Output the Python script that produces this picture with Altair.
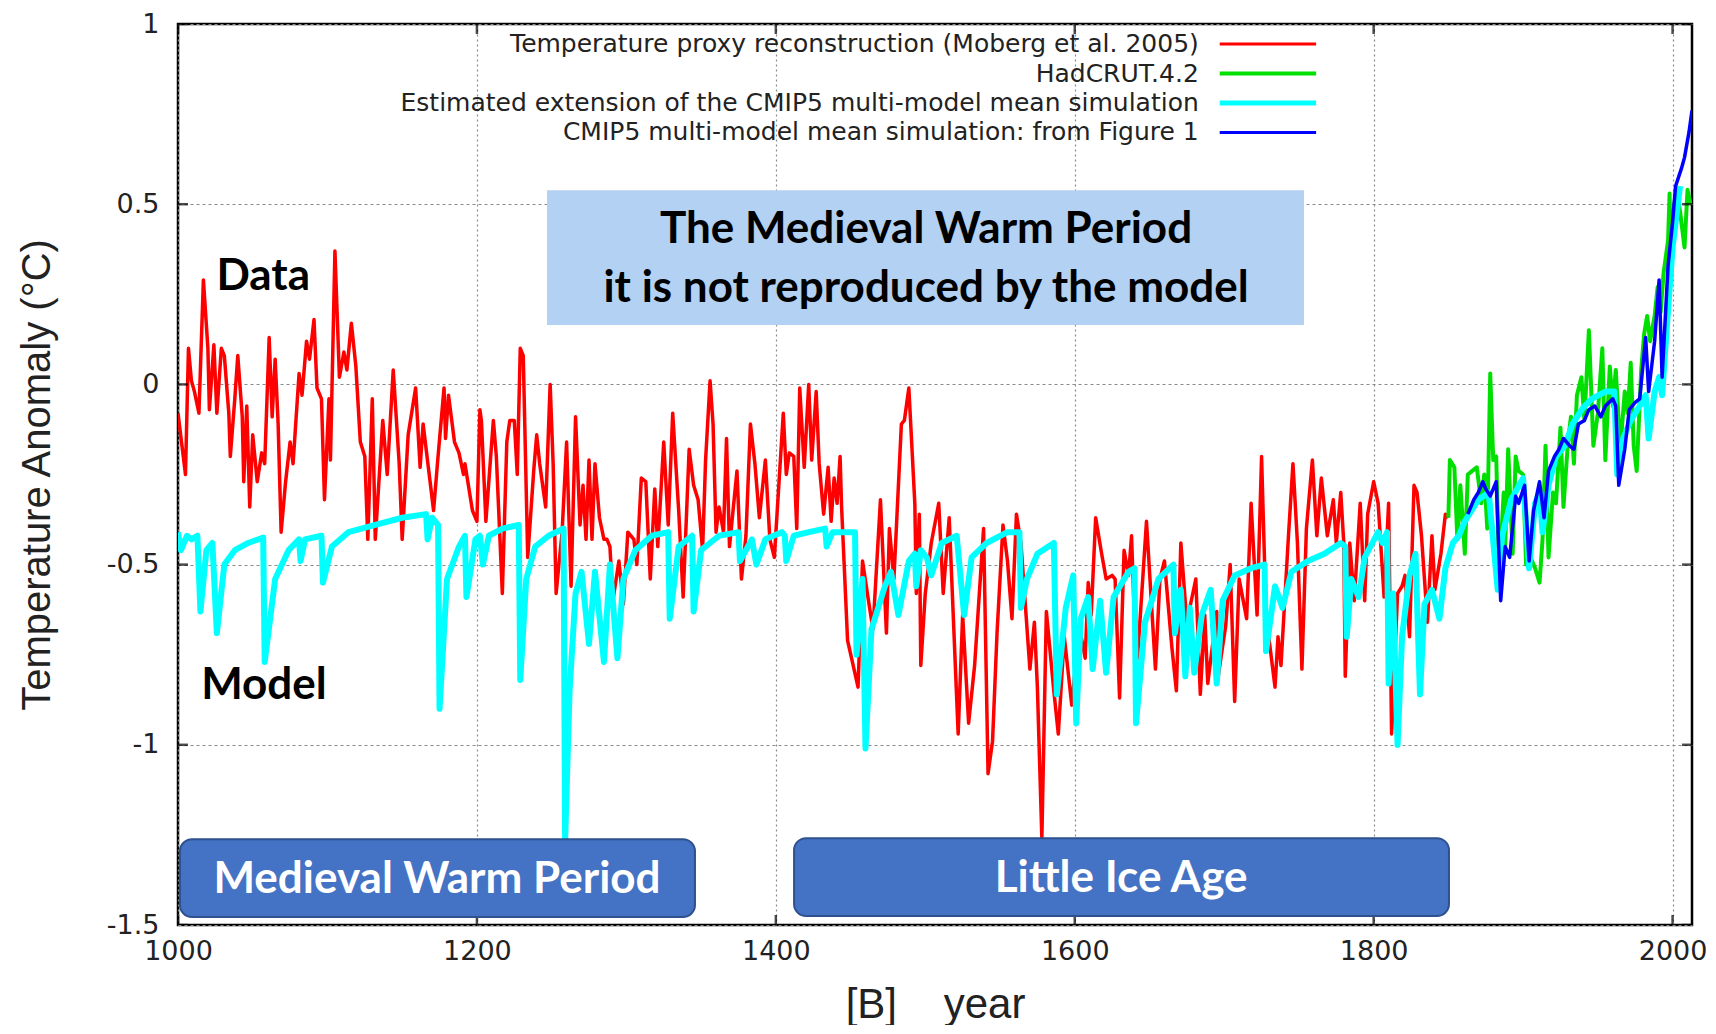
import altair as alt
import pandas as pd

# ---------------- data ----------------
red_years = [1000,1005,1007,1009,1011,1014,1017,1020,1021,1024,1026,1029,1031,1034,1035,1038,1040,1043,1044,1046,
             1048,1050,1053,1056,1058,1061,1063,1065,1067,1069,1072,1075,1077,1081,1083,1086,1088,1091,1093,1096,
             1098,1101,1102,1105,1108,1111,1113,1116,1119,1122,1125,1127,1130,1132,1137,1140,1144,1148,1150,1154,
             1159,1162,1164,1171,1174,1178,1179,1181,1185,1188,1191,1192,1197,1200,1202,1203,1206,1211,1213,1217,
             1220,1222,1225,1227,1229,1231,1234,1238,1240,1242,1246,1249,1251,1253,1257,1260,1263,1266,1269,1271,
             1273,1275,1277,1279,1282,1285,1287,1289,1291,1295,1298,1301,1305,1307,1310,1313,1316,1319,1321,1325,
             1328,1331,1335,1338,1342,1345,1348,1351,1353,1356,1358,1360,1362,1365,1367,1369,1374,1377,1380,1383,
             1386,1389,1393,1396,1399,1405,1407,1409,1412,1414,1416,1419,1422,1424,1427,1429,1432,1435,1437,1439,
             1441,1443,1444,1448,1455,1458,1462,1465,1470,1474,1476,1479,1484,1486,1489,1493,1494,1496,1497,1500,
             1504,1509,1512,1516,1522,1525,1529,1533,1539,1542,1545,1548,1552,1555,1558,1561,1564,1570,1573,1575,
             1578,1581,1586,1589,1593,1598,1603,1607,1609,1611,1614,1618,1621,1625,1627,1630,1633,1636,1638,1640,
             1642,1648,1654,1657,1660,1665,1668,1671,1675,1681,1684,1687,1689,1695,1696,1701,1704,1707,1710,1715,
             1718,1722,1725,1728,1734,1736,1738,1743,1746,1749,1752,1755,1759,1762,1765,1769,1773,1775,1778,1780,
             1781,1784,1787,1791,1794,1796,1800,1803,1807,1810,1812,1816,1819,1821,1824,1827,1829,1832,1836,1839,
             1841,1845,1848,1850]
red_vals = [-0.08,-0.25,0.10,0.01,-0.02,-0.08,0.29,0.10,-0.07,0.11,-0.08,0.10,0.08,-0.08,-0.20,-0.04,0.08,-0.09,-0.27,-0.06,
            -0.34,-0.14,-0.27,-0.19,-0.22,0.13,-0.09,0.07,-0.11,-0.41,-0.27,-0.16,-0.22,0.03,-0.03,0.12,0.07,0.18,-0.01,-0.04,
            -0.32,-0.04,-0.21,0.37,0.02,0.09,0.04,0.17,0.05,-0.16,-0.20,-0.43,-0.04,-0.43,-0.10,-0.25,0.04,-0.22,-0.43,-0.14,
            -0.01,-0.23,-0.11,-0.35,-0.20,-0.01,-0.15,-0.03,-0.16,-0.19,-0.25,-0.22,-0.35,-0.38,-0.07,-0.10,-0.38,-0.10,-0.20,-0.58,
            -0.16,-0.10,-0.10,-0.25,0.10,0.08,-0.48,-0.24,-0.14,-0.22,-0.34,0.00,-0.22,-0.58,-0.41,-0.16,-0.56,-0.09,-0.39,-0.28,
            -0.43,-0.21,-0.43,-0.22,-0.37,-0.43,-0.43,-0.45,-0.60,-0.49,-0.61,-0.41,-0.43,-0.50,-0.26,-0.27,-0.54,-0.29,-0.45,-0.16,
            -0.39,-0.08,-0.35,-0.59,-0.18,-0.28,-0.32,-0.46,-0.21,0.01,-0.11,-0.41,-0.34,-0.41,-0.15,-0.45,-0.24,-0.54,-0.42,-0.11,
            -0.22,-0.37,-0.21,-0.43,-0.48,-0.08,-0.25,-0.19,-0.20,-0.40,-0.01,-0.23,0.00,-0.21,-0.02,-0.22,-0.36,-0.23,-0.38,-0.26,
            -0.33,-0.20,-0.34,-0.71,-0.84,-0.49,-0.60,-0.68,-0.32,-0.69,-0.40,-0.54,-0.11,-0.10,-0.01,-0.33,-0.58,-0.36,-0.78,-0.58,
            -0.44,-0.33,-0.58,-0.37,-0.97,-0.64,-0.94,-0.78,-0.40,-1.08,-0.99,-0.69,-0.39,-0.49,-0.65,-0.36,-0.44,-0.79,-0.66,-0.84,
            -1.26,-0.63,-0.85,-0.97,-0.70,-0.89,-0.67,-0.76,-0.55,-0.64,-0.37,-0.47,-0.54,-0.53,-0.54,-0.87,-0.46,-0.53,-0.42,-0.66,
            -0.76,-0.38,-0.79,-0.54,-0.49,-0.73,-0.85,-0.44,-0.66,-0.54,-0.86,-0.64,-0.83,-0.63,-0.81,-0.67,-0.50,-0.88,-0.54,-0.65,
            -0.33,-0.64,-0.20,-0.64,-0.84,-0.70,-0.78,-0.42,-0.22,-0.44,-0.79,-0.40,-0.21,-0.42,-0.26,-0.42,-0.32,-0.44,-0.30,-0.44,
            -0.81,-0.44,-0.60,-0.33,-0.60,-0.36,-0.27,-0.33,-0.59,-0.33,-0.97,-0.58,-0.56,-0.53,-0.70,-0.28,-0.30,-0.42,-0.66,-0.42,
            -0.57,-0.47,-0.36,-0.37]

cyan_years = [1000,1002,1006,1009,1013,1015,1019,1023,1026,1031,1038,1047,1057,1058,1065,1074,1081,1082,1085,1096,
              1097,1103,1114,1132,1150,1166,1167,1170,1174,1175,1180,1188,1192,1193,1199,1202,1204,1208,1217,1228,
              1229,1233,1239,1248,1258,1259,1262,1266,1270,1275,1279,1285,1289,1294,1298,1306,1317,1328,1329,1335,
              1344,1345,1350,1362,1375,1376,1384,1387,1393,1404,1406,1407,1412,1422,1433,1434,1438,1453,1454,1458,
              1460,1464,1473,1477,1482,1489,1493,1494,1497,1501,1504,1511,1521,1526,1531,1541,1555,1563,1564,1568,
              1575,1586,1588,1594,1599,1601,1604,1609,1612,1617,1621,1626,1636,1640,1641,1647,1656,1666,1667,1671,
              1674,1677,1680,1685,1691,1695,1699,1707,1718,1727,1728,1734,1739,1745,1756,1767,1778,1781,1782,1785,
              1790,1794,1803,1806,1809,1810,1813,1816,1819,1824,1828,1831,1834,1839,1844,1848,1853,1857,1861,1870,
              1877,1883,1886,1892,1900,1904,1908,1911,1913,1917,1922,1928,1933,1940,1946,1955,1961,1963,1967,1972,
              1978,1982,1984,1988,1991,1993,1996,2000,2005]
cyan_vals = [-0.41,-0.46,-0.42,-0.43,-0.42,-0.63,-0.46,-0.44,-0.69,-0.50,-0.46,-0.44,-0.425,-0.77,-0.54,-0.46,-0.43,-0.49,-0.43,-0.42,
             -0.55,-0.45,-0.41,-0.39,-0.37,-0.36,-0.43,-0.37,-0.39,-0.90,-0.54,-0.45,-0.42,-0.59,-0.43,-0.42,-0.50,-0.42,-0.40,-0.39,
             -0.82,-0.54,-0.45,-0.42,-0.40,-1.27,-0.85,-0.58,-0.52,-0.72,-0.52,-0.77,-0.50,-0.76,-0.54,-0.46,-0.42,-0.41,-0.65,-0.45,
             -0.42,-0.63,-0.46,-0.42,-0.41,-0.49,-0.43,-0.50,-0.43,-0.41,-0.42,-0.49,-0.42,-0.41,-0.40,-0.45,-0.41,-0.41,-0.75,-0.54,
             -1.01,-0.68,-0.56,-0.52,-0.64,-0.49,-0.47,-0.56,-0.46,-0.48,-0.53,-0.44,-0.42,-0.64,-0.48,-0.44,-0.41,-0.41,-0.62,-0.54,
             -0.47,-0.44,-0.86,-0.62,-0.53,-0.94,-0.65,-0.59,-0.79,-0.60,-0.80,-0.59,-0.52,-0.51,-0.94,-0.66,-0.54,-0.50,-0.69,-0.57,
             -0.81,-0.62,-0.80,-0.64,-0.57,-0.83,-0.60,-0.53,-0.51,-0.50,-0.74,-0.56,-0.62,-0.52,-0.49,-0.47,-0.44,-0.45,-0.70,-0.54,
             -0.59,-0.48,-0.41,-0.44,-0.41,-0.83,-0.58,-1.00,-0.70,-0.53,-0.47,-0.86,-0.61,-0.57,-0.65,-0.51,-0.44,-0.42,-0.38,-0.32,
             -0.30,-0.57,-0.42,-0.32,-0.26,-0.51,-0.33,-0.30,-0.41,-0.28,-0.20,-0.17,-0.11,-0.065,-0.04,-0.02,-0.02,-0.25,-0.15,-0.10,
             -0.06,-0.03,-0.15,-0.02,0.02,-0.03,0.15,0.38,0.55]

green_years = [1850,1851,1854,1856,1858,1861,1863,1866,1869,1872,1874,1876,1878,1880,1882,1884,1887,1888,1890,1893,
               1895,1897,1900,1902,1905,1908,1911,1913,1915,1917,1920,1922,1925,1927,1930,1932,1934,1936,1939,1941,
               1944,1947,1950,1953,1955,1958,1960,1962,1965,1968,1970,1972,1974,1976,1979,1981,1983,1985,1988,1990,
               1992,1994,1997,1998,1999,2001,2003,2005,2008,2010,2012]
green_vals = [-0.37,-0.21,-0.23,-0.43,-0.28,-0.47,-0.25,-0.24,-0.23,-0.33,-0.25,-0.40,0.03,-0.21,-0.20,-0.53,-0.30,-0.45,-0.18,-0.47,
              -0.20,-0.24,-0.25,-0.50,-0.48,-0.51,-0.55,-0.43,-0.17,-0.48,-0.30,-0.33,-0.12,-0.34,-0.16,-0.09,-0.22,-0.03,0.02,-0.10,
              0.15,-0.17,-0.08,0.10,-0.21,0.05,-0.06,0.04,-0.18,-0.02,-0.08,0.06,-0.17,-0.24,0.04,0.14,0.19,0.12,0.19,0.27,
              0.20,0.31,0.40,0.53,0.28,0.50,0.53,0.48,0.38,0.54,0.50]

blue_years = [1863,1867,1870,1873,1875,1878,1882,1885,1888,1891,1895,1897,1901,1904,1907,1911,1914,1917,1921,1924,
              1927,1931,1934,1937,1941,1944,1948,1952,1955,1960,1962,1964,1968,1971,1975,1978,1982,1984,1988,1991,
              1993,1997,2000,2002,2006,2008,2011,2013]
blue_vals = [-0.36,-0.32,-0.30,-0.27,-0.29,-0.31,-0.27,-0.60,-0.45,-0.48,-0.31,-0.33,-0.28,-0.49,-0.35,-0.27,-0.37,-0.24,-0.20,-0.18,
             -0.15,-0.17,-0.18,-0.11,-0.10,-0.07,-0.06,-0.09,-0.06,-0.04,-0.06,-0.28,-0.18,-0.07,-0.05,-0.04,0.13,-0.02,0.12,0.29,
             0.02,0.33,0.45,0.55,0.60,0.63,0.70,0.76]

series_names = ["Temperature proxy reconstruction (Moberg et al. 2005)",
                "HadCRUT.4.2",
                "Estimated extension of the CMIP5 multi-model mean simulation",
                "CMIP5 multi-model mean simulation: from Figure 1"]
series_colors = ["#FF0000", "#00E000", "#00FFFF", "#0000FF"]
series_widths = [3.5, 4, 6, 3.5]
legend_widths = [3, 4, 5, 3]

x_ticks = [1000, 1200, 1400, 1600, 1800, 2000]
y_ticks = [-1.5, -1.0, -0.5, 0.0, 0.5, 1.0]

# ---------------- scales / shared axes ----------------
W, H = 1514, 901
xs = alt.Scale(domain=[1000, 2013], nice=False, zero=False)
ys = alt.Scale(domain=[-1.5, 1.0], nice=False, zero=False)
NB = "\u00a0"
x_axis = alt.Axis(
    values=x_ticks, format="d", title="[B]" + NB * 4 + "year", grid=True,
    gridDash=[2, 3], gridColor="#8a8a8a", gridWidth=1.2, labelFlush=False,
    domain=False, ticks=False, labelFontSize=27, labelPadding=13,
    labelColor="#222222", labelFont="DejaVu Sans",
    titleFont="Liberation Sans", titleFontSize=42, titleFontWeight="normal",
    titleColor="#222222", titlePadding=20)
y_axis = alt.Axis(
    values=y_ticks, title="Temperature Anomaly (°C)", grid=True,
    gridDash=[3, 3], gridColor="#8a8a8a", gridWidth=1.2, labelFlush=False,
    labelExpr="datum.value < 0 ? '-' + format(-datum.value, '~g') : format(datum.value, '~g')",
    domain=False, ticks=False, labelFontSize=27, labelPadding=19,
    labelColor="#222222", labelFont="DejaVu Sans",
    titleFont="Liberation Sans", titleFontSize=40, titleFontWeight="normal",
    titleColor="#222222", titlePadding=49)

def X(field):
    return alt.X(field, scale=xs, axis=x_axis)

def Y(field):
    return alt.Y(field, scale=ys, axis=y_axis)

def series_df(years, vals):
    return pd.DataFrame({"year": years, "value": vals})

def line_layer(years, vals, color, width):
    return alt.Chart(series_df(years, vals)).mark_line(
        color=color, strokeWidth=width, strokeJoin="round", clip=True
    ).encode(x=X("year:Q"), y=Y("value:Q"))

layers = [
    line_layer(red_years, red_vals, series_colors[0], series_widths[0]),
    line_layer(green_years, green_vals, series_colors[1], series_widths[1]),
    line_layer(cyan_years, cyan_vals, series_colors[2], series_widths[2]),
    line_layer(blue_years, blue_vals, series_colors[3], series_widths[3]),
]

# ---- inward tick marks on all four sides ----
xt = pd.DataFrame({"t": x_ticks})
yt = pd.DataFrame({"t": y_ticks})
for yv in (0, H):
    layers.append(alt.Chart(xt).mark_tick(orient="vertical", size=20, thickness=2.5,
                                          color="black", clip=True).encode(
        x=X("t:Q"), y=alt.value(yv)))
for xv in (0, W):
    layers.append(alt.Chart(yt).mark_tick(orient="horizontal", size=20, thickness=2.5,
                                          color="black", clip=True).encode(
        y=Y("t:Q"), x=alt.value(xv)))

# ---- legend (gnuplot style: label left of the line) ----
leg = pd.DataFrame({
    "label": series_names,
    "ly": [0.9445, 0.8626, 0.7808, 0.6990],
    "tx": [1683.0] * 4,
    "l0": [1697.0] * 4,
    "l1": [1761.5] * 4,
})
layers.append(alt.Chart(leg).mark_text(align="right", baseline="middle", font="DejaVu Sans",
                                       fontSize=25, color="#222222").encode(
    x=X("tx:Q"), y=Y("ly:Q"), text="label:N"))
for i in range(4):
    layers.append(alt.Chart(leg.iloc[[i]]).mark_rule(color=series_colors[i],
                                                     strokeWidth=legend_widths[i]).encode(
        x=X("l0:Q"), x2="l1:Q", y=Y("ly:Q")))

# ---- light-blue note box ----
note_box = pd.DataFrame({"x0": [1246.9], "x1": [1753.4], "y0": [0.539], "y1": [0.165]})
layers.append(alt.Chart(note_box).mark_rect(color="#B3D1F2").encode(
    x=X("x0:Q"), x2="x1:Q", y=Y("y0:Q"), y2="y1:Q"))
note_text = pd.DataFrame({"x": [1500.5, 1500.5], "y": [0.428, 0.265],
                          "t": ["The Medieval Warm Period", "it is not reproduced by the model"]})
layers.append(alt.Chart(note_text).mark_text(font="Lato", fontWeight="bold", fontSize=44,
                                             color="black", align="center", baseline="middle").encode(
    x=X("x:Q"), y=Y("y:Q"), text="t:N"))

# ---- Data / Model labels ----
lab = pd.DataFrame({"x": [1057.0, 1057.5], "y": [0.298, -0.837], "t": ["Data", "Model"]})
layers.append(alt.Chart(lab).mark_text(font="Lato", fontWeight="bold", fontSize=44,
                                       color="black", align="center", baseline="middle").encode(
    x=X("x:Q"), y=Y("y:Q"), text="t:N"))

# ---- period boxes ----
periods = pd.DataFrame({
    "x0": [1001.3, 1412.2], "x1": [1345.9, 1850.4],
    "y0": [-1.262, -1.259], "y1": [-1.478, -1.475],
    "xc": [1173.3, 1631.0], "yc": [-1.375, -1.373],
    "t": ["Medieval Warm Period", "Little Ice Age"],
})
layers.append(alt.Chart(periods).mark_rect(color="#4472C4", stroke="#2F528F", strokeWidth=2,
                                           cornerRadius=12).encode(
    x=X("x0:Q"), x2="x1:Q", y=Y("y0:Q"), y2="y1:Q"))
layers.append(alt.Chart(periods).mark_text(font="Lato", fontWeight="bold", fontSize=44,
                                           color="white", align="center", baseline="middle").encode(
    x=X("xc:Q"), y=Y("yc:Q"), text="t:N"))

chart = alt.layer(*layers).properties(
    width=W, height=H,
    autosize=alt.AutoSizeParams(type="none"),
    padding={"left": 170, "top": 16, "right": 14, "bottom": 100},
    background="white",
).configure_view(stroke="black", strokeWidth=2.5)

chart.save("out.html", embed_options={"renderer": "svg", "actions": False})
